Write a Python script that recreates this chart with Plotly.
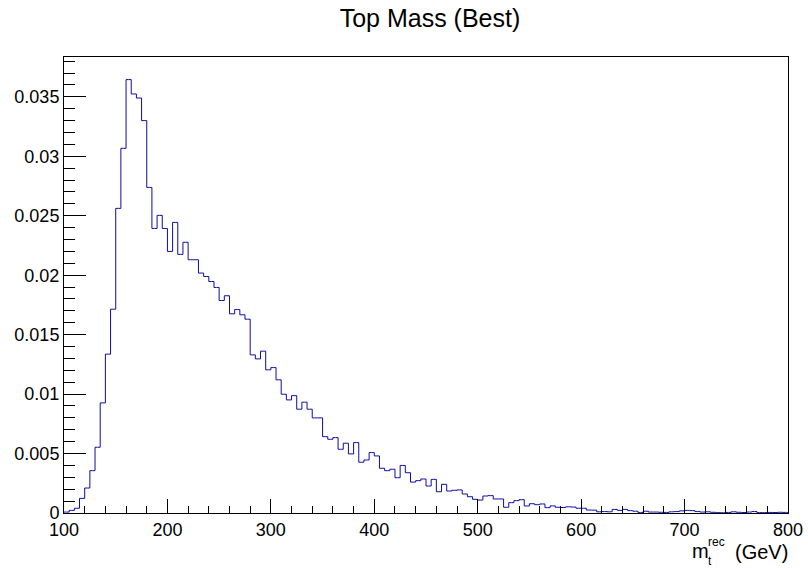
import plotly.graph_objects as go

# ---- data -------------------------------------------------------------
bin_low = 100.0
bin_width = 5.0
values = [
    0.00008, 0.00022, 0.0004, 0.00123, 0.0021, 0.00356, 0.00553, 0.00926, 0.01336, 0.01714,
    0.02562, 0.03067, 0.03645, 0.03524, 0.0349, 0.0330, 0.02738, 0.02393, 0.02503, 0.02393,
    0.0220, 0.02444, 0.02175, 0.02277, 0.0213, 0.0213, 0.02018, 0.01989, 0.01947, 0.01897,
    0.01787, 0.01827, 0.01675, 0.01711, 0.01667, 0.0163, 0.0133, 0.01296, 0.01361, 0.01204,
    0.01223, 0.0112, 0.00999, 0.00951, 0.00987, 0.00873, 0.00932, 0.00873, 0.008, 0.008,
    0.00642, 0.0062, 0.00634, 0.00536, 0.00587, 0.00497, 0.00592, 0.00427, 0.00446, 0.00508,
    0.0048, 0.00376, 0.00356, 0.00368, 0.00297, 0.004, 0.00339, 0.0026, 0.00272, 0.00286,
    0.00227, 0.00283, 0.00179, 0.00241, 0.00185, 0.00191, 0.00194, 0.0016, 0.00137, 0.00115,
    0.00109, 0.00143, 0.00146, 0.00118, 0.00118, 0.00048, 0.00087, 0.00104, 0.00112, 0.00059,
    0.00078, 0.0007, 0.00076, 0.00045, 0.0006, 0.00048, 0.00046, 0.00052, 0.0005, 0.0004,
    0.0004, 0.00025, 0.00024, 0.0001, 0.00012, 0.0001, 0.0003, 0.00022, 0.0003, 0.0002,
    0.00015, 0.00003, 0.00015, 0.00008, 0.00008, 0.00006, 0.00005, 0.0001, 0.00012, 0.00018,
    0.00022, 0.0002, 0.00012, 0.00008, 0.0001, 0.00006, 0.00003, 0.00002, 0.00005, 0.0001,
    0.00006, 0.00004, 0.00008, 0.00012, 0.00003, 0.00003, 0.00005, 0.00004, 0.00006, 0.00005,
]
x_tickvals = [100, 200, 300, 400, 500, 600, 700, 800]
x_ticktext = ["100", "200", "300", "400", "500", "600", "700", "800"]
y_tickvals = [0, 0.005, 0.01, 0.015, 0.02, 0.025, 0.03, 0.035]
y_ticktext = ["0", "0.005", "0.01", "0.015", "0.02", "0.025", "0.03", "0.035"]
title_text = "Top Mass (Best)"

# ---- geometry ---------------------------------------------------------
W, H = 808, 569
L, R, T, B = 64, 20, 57, 56
PW, PH = W - L - R, H - T - B

def px(xp):
    return (xp - L) / PW

def py(yp):
    return (H - B - yp) / PH

n = len(values)
centers = [bin_low + bin_width * (i + 0.5) for i in range(n)]
x_hi = bin_low + bin_width * n
xs = [bin_low] + centers + [x_hi]
ys = [values[0]] + values + [values[-1]]

fig = go.Figure()
fig.add_trace(go.Scatter(
    x=xs, y=ys, mode="lines", line=dict(shape="hvh", color="#0c0ca8", width=1),
    hoverinfo="skip", showlegend=False,
))

font = "Liberation Sans, Arial, Helvetica, sans-serif"
fig.update_layout(
    width=W, height=H,
    margin=dict(l=L, r=R, t=T, b=B, pad=0, autoexpand=False),
    paper_bgcolor="white", plot_bgcolor="white",
    font=dict(family=font, color="black", size=18),
    title=dict(text=title_text, x=430 / W, xanchor="center", y=1 - 18 / H,
               yanchor="middle", font=dict(size=25, family=font, color="black")),
    showlegend=False,
)
fig.update_xaxes(
    range=[bin_low, x_hi], showgrid=False, zeroline=False, automargin=False,
    showline=True, linecolor="black", linewidth=1, mirror=True,
    ticks="inside", ticklen=14, tickcolor="black", tickwidth=1,
    tickvals=x_tickvals, ticktext=x_ticktext, tickfont=dict(size=18),
    minor=dict(ticks="inside", ticklen=7, tickcolor="black", tickwidth=1, dtick=20, showgrid=False),
)
fig.update_yaxes(
    range=[0, 0.03835], showgrid=False, zeroline=False, automargin=False,
    showline=True, linecolor="black", linewidth=1, mirror=True,
    ticks="inside", ticklen=22, tickcolor="black", tickwidth=1,
    tickvals=y_tickvals, ticktext=y_ticktext, tickfont=dict(size=18),
    minor=dict(ticks="inside", ticklen=11, tickcolor="black", tickwidth=1, dtick=0.001, showgrid=False),
)

ann = dict(xref="paper", yref="paper", showarrow=False, xanchor="left", yanchor="middle")
fig.add_annotation(text="m", x=px(690), y=py(551), font=dict(family=font, color="black", size=20), **ann)
fig.add_annotation(text="rec", x=px(706), y=py(542), font=dict(family=font, color="black", size=12), **ann)
fig.add_annotation(text="t", x=px(706), y=py(561), font=dict(family=font, color="black", size=12), **ann)
fig.add_annotation(text="(GeV)", x=px(733), y=py(552), font=dict(family=font, color="black", size=20), **ann)

fig.write_html("out.html", config={"displayModeBar": False})

# remove the browser's default page margin so the figure sits at (0, 0)
with open("out.html", "r", encoding="utf-8") as f:
    html = f.read()
html = html.replace("<head>", "<head><style>html,body{margin:0;padding:0;overflow:hidden;}</style>", 1)
with open("out.html", "w", encoding="utf-8") as f:
    f.write(html)
